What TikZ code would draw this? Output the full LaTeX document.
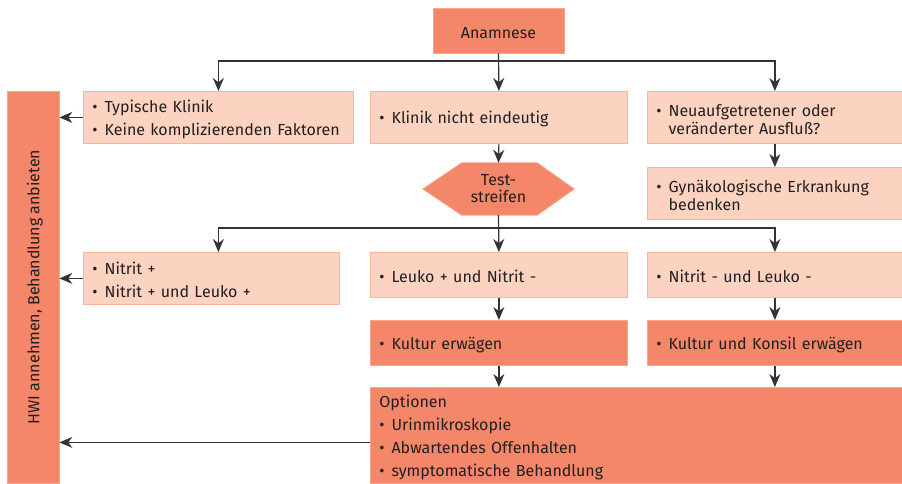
\documentclass[tikz,border=0pt]{standalone}
\usepackage{fontspec}
\setmainfont{Fira Sans}
\usetikzlibrary{arrows.meta,backgrounds}
\definecolor{lachs}{HTML}{F4876A}
\definecolor{lachshell}{HTML}{FCD3C1}
\definecolor{randhell}{HTML}{F9B59C}
\definecolor{linie}{HTML}{333333}
\definecolor{schrift}{HTML}{231F20}
\newcommand{\bl}{\textbullet\hspace{7pt}}
\newcommand{\ein}{\phantom{\bl}}
\tikzset{
  kasten/.style={draw=randhell, fill=lachshell, line width=0.8pt, anchor=north west,
    inner xsep=9pt, inner ysep=0pt, align=left, text=schrift, font=\fontsize{16}{18}\selectfont,
    execute at begin node={\rule{0pt}{16pt}}},
  dunkel/.style={kasten, fill=lachs, draw=lachs!75!white},
  pfeil/.style={draw=linie, line width=1.2pt, -{Stealth[length=13pt,width=11pt]}},
}
\begin{document}
\begin{tikzpicture}[x=1pt, y=-1pt]
      \useasboundingbox (0,0) rectangle (902,483);
      \node[dunkel, anchor=center, align=center, minimum width=131pt, minimum height=45pt] (anam) at (498.5,30.5) {Anamnese};
      \node[dunkel, anchor=center, align=center, rotate=90, minimum width=392pt, minimum height=52pt] (hwi) at (33,287) {HWI annehmen, Behandlung anbieten};

      \node[kasten, text width=252pt, minimum height=52pt] (typ) at (83,91) {\bl Typische Klinik\\[5pt]\bl Keine komplizierenden Faktoren};
      \node[kasten, text width=239pt, minimum height=52pt] (unklar) at (370,91) {\bl Klinik nicht eindeutig};
      \node[kasten, text width=237pt, minimum height=52pt] (ausfl) at (647,91) {\bl Neuaufgetretener oder\\\ein veränderter Ausfluß?};
      \node[kasten, text width=237pt, minimum height=52pt] (gyn) at (647,167) {\bl Gynäkologische Erkrankung\\\ein bedenken};

      \node[align=center, text=schrift, font=\fontsize{16}{17}\selectfont, minimum width=151pt, minimum height=52pt] (test) at (498.5,189) {Test-\\streifen};
      \begin{scope}[on background layer]
        \filldraw[fill=lachs, draw=lachs!75!white, line width=0.8pt] (test.west) -- ([xshift=39pt]test.north west) -- ([xshift=-37pt]test.north east)
          -- (test.east) -- ([xshift=-37pt]test.south east) -- ([xshift=39pt]test.south west) -- cycle;
      \end{scope}

      \node[kasten, text width=238pt, minimum height=52pt] (npos) at (83,252) {\bl Nitrit +\\[5pt]\bl Nitrit + und Leuko +};
      \node[kasten, text width=239pt, minimum height=45pt] (lnit) at (370,252) {\bl Leuko + und Nitrit -};
      \node[kasten, text width=237pt, minimum height=45pt] (nneg) at (647,252) {\bl Nitrit - und Leuko -};
      \node[dunkel, text width=239pt, minimum height=45pt] (kult) at (370,320) {\bl Kultur erwägen};
      \node[dunkel, text width=237pt, minimum height=45pt] (kons) at (647,320) {\bl Kultur und Konsil erwägen};
      \node[dunkel, text width=514pt, minimum height=96pt] (opt) at (370,387) {Optionen\\[5pt]\bl Urinmikroskopie\\[5pt]\bl Abwartendes Offenhalten\\[5pt]\bl symptomatische Behandlung};

      \coordinate (b1) at (498.5,61);
      \coordinate (b2) at (498.5,228);
      \draw[pfeil] (anam.south) -- (unklar.north);
      \draw[pfeil] (b1) -| (typ.north);
      \draw[pfeil] (b1) -| (ausfl.north);
      \draw[pfeil] (unklar.south) -- (test.north);
      \draw[pfeil] (ausfl.south) -- (gyn.north);
      \draw[pfeil] (test.south) -- (lnit.north);
      \draw[pfeil] (b2) -| (npos.north -| typ.north);
      \draw[pfeil] (b2) -| (nneg.north);
      \draw[pfeil] (lnit.south) -- (kult.north);
      \draw[pfeil] (nneg.south) -- (kons.north);
      \draw[pfeil] (kult.south) -- (kult.south |- opt.north);
      \draw[pfeil] (kons.south) -- (kons.south |- opt.north);
      \draw[pfeil] (typ.west) -- (typ.west -| hwi.south);
      \draw[pfeil] (npos.west) -- (npos.west -| hwi.south);
      \draw[pfeil] ([yshift=-7pt]opt.west) -- ([yshift=-7pt]opt.west -| hwi.south);
    \end{tikzpicture}
\end{document}
